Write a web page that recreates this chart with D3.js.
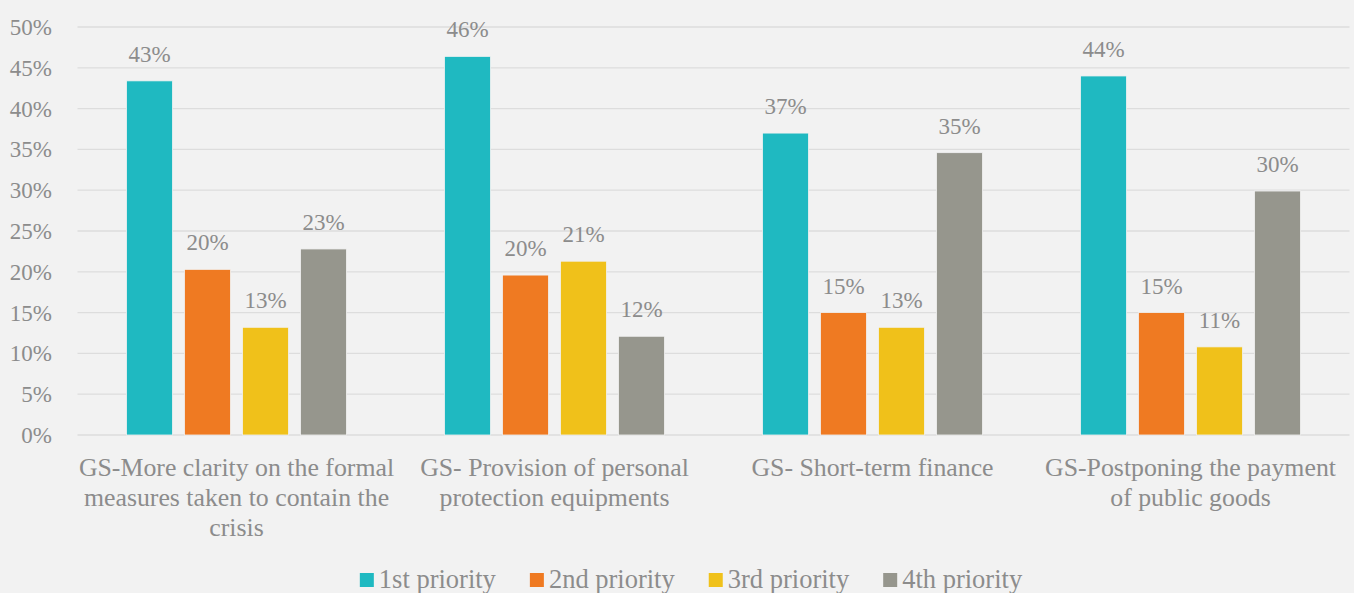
<!DOCTYPE html>
<meta charset="utf-8">
<html>
<head>
<script src="https://d3js.org/d3.v7.min.js"></script>
<style>
  body { margin: 0; background: #f2f2f2; }
  text { font-family: "Palatino Linotype", Palatino, "Liberation Serif", serif; fill: #8c8c8c; }
</style>
</head>
<body>
<div id="viz"></div>
<script>
const categories = [
  ["GS-More clarity on the formal", "measures taken to contain the", "crisis"],
  ["GS- Provision of personal", "protection equipments"],
  ["GS- Short-term finance"],
  ["GS-Postponing the payment", "of public goods"]
];
const seriesNames = ["1st priority", "2nd priority", "3rd priority", "4th priority"];
const first  = [43.4, 46.4, 37.0, 44.0];
const second = [20.3, 19.6, 15.0, 15.0];
const third  = [13.2, 21.3, 13.2, 10.8];
const fourth = [22.8, 12.1, 34.6, 29.9];
const yTicks = [0, 5, 10, 15, 20, 25, 30, 35, 40, 45, 50];
const colors = ["#1fb9c1", "#ef7a22", "#f0c11a", "#96968d"];

const series = [first, second, third, fourth];
const w = 1354, h = 593;
const margin = {top: 27, left: 77.5, right: 4.5, bottom: 158};

const svg = d3.select("#viz").append("svg")
  .attr("width", w).attr("height", h)
  .style("background-color", "#f2f2f2");

const y = d3.scaleLinear().domain([0, 50]).range([h - margin.bottom, margin.top]);
const x0 = d3.scaleBand().domain(d3.range(categories.length))
  .range([margin.left, w - margin.right]);
const x1 = d3.scaleBand().domain(d3.range(series.length))
  .range([49, x0.bandwidth() - 49]).paddingInner(0.207);

// gridlines
svg.append("g").selectAll("line")
  .data(yTicks)
  .join("line")
  .attr("x1", margin.left).attr("x2", w - margin.right)
  .attr("y1", d => y(d)).attr("y2", d => y(d))
  .attr("stroke", "#dddddd").attr("stroke-width", 1.3);

// y tick labels
svg.append("g").selectAll("text")
  .data(yTicks)
  .join("text")
  .attr("x", 52).attr("y", d => y(d) + 8)
  .attr("text-anchor", "end")
  .style("font-size", "23px")
  .text(d => d + "%");

const groups = svg.append("g").selectAll("g")
  .data(categories)
  .join("g")
  .attr("transform", (d, i) => `translate(${x0(i)},0)`);

groups.selectAll("rect")
  .data((d, i) => series.map((s, j) => ({j, v: s[i]})))
  .join("rect")
  .attr("x", d => x1(d.j))
  .attr("width", x1.bandwidth())
  .attr("y", d => y(d.v))
  .attr("height", d => y(0) - y(d.v))
  .attr("fill", d => colors[d.j])
  .attr("stroke", "#f2f2f2").attr("stroke-width", 0.8);

groups.selectAll(".lbl")
  .data((d, i) => series.map((s, j) => ({j, v: s[i]})))
  .join("text")
  .attr("class", "lbl")
  .attr("x", d => x1(d.j) + x1.bandwidth() / 2)
  .attr("y", d => y(d.v) - 19)
  .attr("text-anchor", "middle")
  .style("font-size", "23px")
  .text(d => Math.round(d.v) + "%");

// category labels
groups.append("text")
  .attr("text-anchor", "middle")
  .style("font-size", "25.8px")
  .selectAll("tspan")
  .data(d => d)
  .join("tspan")
  .attr("x", x0.bandwidth() / 2)
  .attr("y", (d, i) => 476 + i * 30)
  .text(d => d);

// legend
const legend = svg.append("g");
let lx = 0;
seriesNames.forEach((name, i) => {
  const g = legend.append("g").attr("transform", `translate(${lx},0)`);
  g.append("rect").attr("x", 0).attr("y", 573).attr("width", 14).attr("height", 14)
    .attr("fill", colors[i]);
  const t = g.append("text").attr("x", 19).attr("y", 588)
    .style("font-size", "26.5px").text(name);
  lx += 19 + t.node().getComputedTextLength() + 34;
});
const lw = lx - 34;
legend.attr("transform", `translate(${(w - lw) / 2 + 14},0)`);
</script>
</body>
</html>
